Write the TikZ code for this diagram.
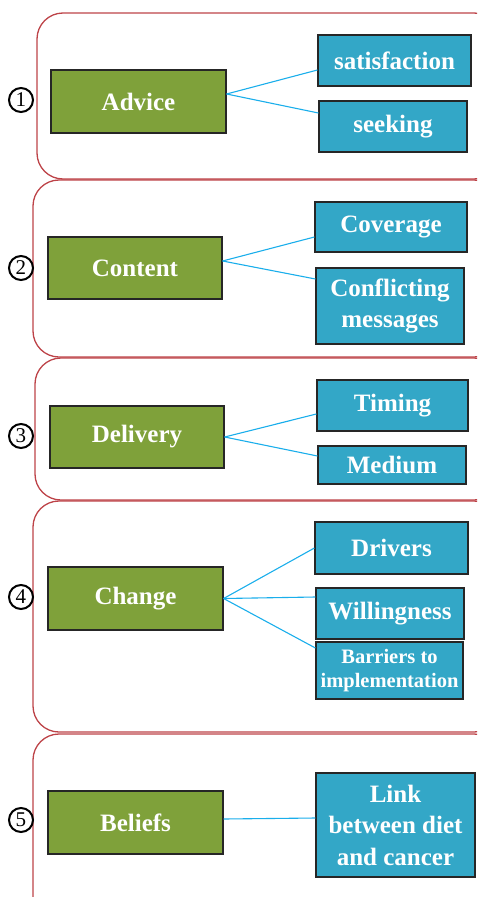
\documentclass[tikz,border=0pt]{standalone}
\usepackage{fontspec}
\setmainfont{Liberation Serif}
\definecolor{vertolive}{HTML}{7FA13A}
\definecolor{bleuaqua}{HTML}{33A7C7}
\definecolor{rougecadre}{HTML}{BD4348}
\definecolor{bleulien}{HTML}{1AAEEB}
\tikzset{
  theme/.style={draw=black!85, line width=1.2pt, fill=vertolive, text=white,
    font=\bfseries\fontsize{25}{28}\selectfont, inner sep=0pt, align=center},
  aspect/.style={draw=black!85, line width=1.2pt, fill=bleuaqua, text=white,
    font=\bfseries\fontsize{25}{31.5}\selectfont, inner sep=0pt, align=center},
  cadre/.style={draw=rougecadre, line width=1.3pt, rounded corners=26pt},
  lien/.style={draw=bleulien, line width=1.1pt},
  numero/.style={circle, draw=black, line width=2pt, minimum size=24pt, inner sep=0pt,
    font=\fontsize{21}{21}\selectfont}
}
\begin{document}
\begin{tikzpicture}[x=1pt,y=-1pt]
\useasboundingbox (0,0) rectangle (477,897);
\clip (0,0) rectangle (477,897);

% Cadres arrondis
\foreach \xa/\ya/\yb in {37/13/179, 33/180/357, 35/358/500, 33/501/732, 33/734/930} {
    \draw[cadre] (\xa,\ya) rectangle (500,\yb);
}

% Numéros
\foreach \y/\num in {100/1, 268/2, 436/3, 597/4, 820/5} {
    \node[numero] (n\num) at (21,\y) {\num};
}

% Thèmes
\node[theme, minimum width=175pt, minimum height=63pt] (adv) at (138.5,101.5) {Advice};
\node[theme, minimum width=174pt, minimum height=62pt] (cont) at (135,268) {Content};
\node[theme, minimum width=174pt, minimum height=62pt] (deli) at (137,437) {Delivery};
\node[theme, minimum width=175pt, minimum height=63pt] (chg) at (135.5,598.5) {Change};
\node[theme, minimum width=175pt, minimum height=63pt] (bel) at (135.5,822.5) {Beliefs};

% Sous-thèmes
\node[aspect, minimum width=153pt, minimum height=51pt] (sat) at (394.5,60.5) {satisfaction};
\node[aspect, minimum width=148pt, minimum height=51pt] (seek) at (393,126.5) {seeking};
\node[aspect, minimum width=152pt, minimum height=50pt] (cov) at (391,227) {Coverage};
\node[aspect, minimum width=148pt, minimum height=76pt] (conf) at (390,306) {Conflicting\\messages};
\node[aspect, minimum width=151pt, minimum height=51pt] (tim) at (392.5,405.5) {Timing};
\node[aspect, minimum width=148pt, minimum height=38pt] (med) at (392,465) {Medium};
\node[aspect, minimum width=153pt, minimum height=52pt] (drv) at (391.5,548) {Drivers};
\node[aspect, minimum width=148pt, minimum height=51pt] (will) at (390,613.5) {Willingness};
\node[aspect, minimum width=147pt, minimum height=57pt,
      font=\bfseries\fontsize{20.5}{24}\selectfont] (bar) at (389.5,670.5) {Barriers to\\implementation};
\node[aspect, minimum width=159pt, minimum height=104pt] (link) at (395.5,825) {Link\\between diet\\and cancer};

% Liens
\foreach \a/\sa/\b/\sb in {adv/7.5/sat/-9.5, adv/7.5/seek/13.5,
                           cont/7/cov/-10, cont/7/conf/27,
                           deli/0/tim/-8.5, deli/0/med/9,
                           chg/0/drv/0, chg/0/will/16.5, chg/0/bar/22.5,
                           bel/3.5/link/7} {
    \draw[lien] ([yshift=\sa pt]\a.east) -- ([yshift=\sb pt]\b.west);
}
\end{tikzpicture}
\end{document}
